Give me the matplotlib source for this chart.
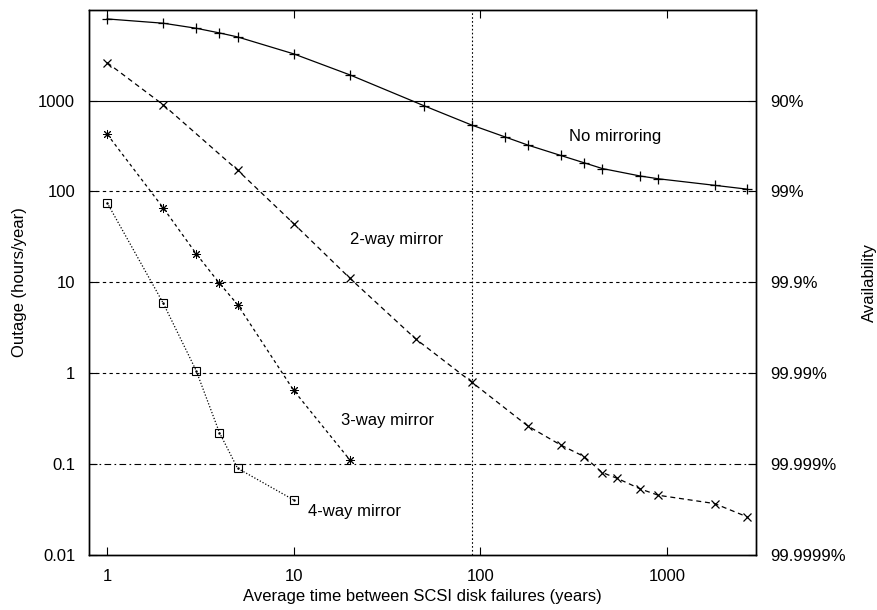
import matplotlib
matplotlib.use("Agg")
import matplotlib.pyplot as plt

plt.rcParams['font.family'] = ['Liberation Sans', 'DejaVu Sans']
plt.rcParams['font.size'] = 12

# average years between disk failures vs. outage (hours/year)
none_years = [1, 2, 3, 4, 5, 10, 20, 50, 90, 135, 180, 270, 360, 450, 720, 900, 1800, 2700]
none_outage = [7925, 7110, 6260, 5560, 5025, 3270, 1920, 877, 538, 400, 324, 249, 207, 179, 148, 138, 117, 106]

way2_years = [1, 2, 5, 10, 20, 45, 90, 180, 270, 360, 450, 540, 720, 900, 1800, 2700]
way2_outage = [2620, 899, 172, 44.3, 11.1, 2.39, 0.798, 0.262, 0.162, 0.121,
               0.0807, 0.0699, 0.0533, 0.0454, 0.0368, 0.0262]

way3_years = [1, 2, 3, 4, 5, 10, 20]
way3_outage = [428, 65.9, 20.7, 9.78, 5.70, 0.647, 0.111]

way4_years = [1, 2, 3, 4, 5, 10]
way4_outage = [75.3, 5.89, 1.07, 0.222, 0.090, 0.0403]

outage_ticks = [0.01, 0.1, 1, 10, 100, 1000]
outage_labels = ['0.01', '0.1', '1', '10', '100', '1000']
avail_labels = ['99.9999%', '99.999%', '99.99%', '99.9%', '99%', '90%']
year_ticks = [1, 10, 100, 1000]
year_labels = ['1', '10', '100', '1000']

fig = plt.figure(figsize=(8.77, 6.10), dpi=100)
ax = fig.add_axes([0.1015, 0.0902, 0.7605, 0.8938])
ax.set_xscale('log')
ax.set_yscale('log')
ax.set_xlim(0.8, 3000)
ax.set_ylim(0.01, 10000)

# reference lines
ax.axhline(1000, color='black', lw=0.8)
for v in [100, 10, 1]:
    ax.axhline(v, color='black', lw=0.8, linestyle=(0, (3, 3)))
ax.axhline(0.1, color='black', lw=0.8, linestyle=(0, (6, 3, 1.5, 3)))
ax.axvline(90, color='black', lw=0.8, linestyle=(0, (1.5, 2)))

ax.plot(none_years, none_outage, color='black', lw=0.9, marker='+', ms=7, mew=0.9)
ax.plot(way2_years, way2_outage, color='black', lw=0.9, linestyle=(0, (4, 3)),
        marker='x', ms=6, mew=0.9)
ax.plot(way3_years, way3_outage, color='black', lw=0.9, linestyle=(0, (2.5, 2.5)),
        marker=(8, 2, 0), ms=6.5, mew=0.7)
ax.plot(way4_years, way4_outage, color='black', lw=0.9, linestyle=(0, (1, 1.5)),
        marker='s', ms=6, mew=0.8, mfc='none')
ax.plot(way4_years, way4_outage, color='black', lw=0, marker='.', ms=1.5)

ax.text(300, 400, 'No mirroring', va='center', ha='left')
ax.text(20, 30, '2-way mirror', va='center', ha='left')
ax.text(18, 0.3, '3-way mirror', va='center', ha='left')
ax.text(12, 0.03, '4-way mirror', va='center', ha='left')

ax.set_xticks(year_ticks)
ax.set_xticklabels(year_labels)
ax.set_yticks(outage_ticks)
ax.set_yticklabels(outage_labels)
ax.minorticks_off()
ax.tick_params(direction='in', length=6, width=0.8, top=True, pad=10)
ax.set_xlabel('Average time between SCSI disk failures (years)', labelpad=4)
ax.set_ylabel('Outage (hours/year)', labelpad=8)

ax2 = ax.twinx()
ax2.set_yscale('log')
ax2.set_ylim(0.01, 10000)
ax2.set_yticks(outage_ticks)
ax2.set_yticklabels(avail_labels)
ax2.minorticks_off()
ax2.tick_params(direction='in', length=6, width=0.8, pad=10)
ax2.set_ylabel('Availability', labelpad=12)

for a in (ax, ax2):
    for s in a.spines.values():
        s.set_linewidth(1.0)

fig.savefig('out.png', dpi=100)
